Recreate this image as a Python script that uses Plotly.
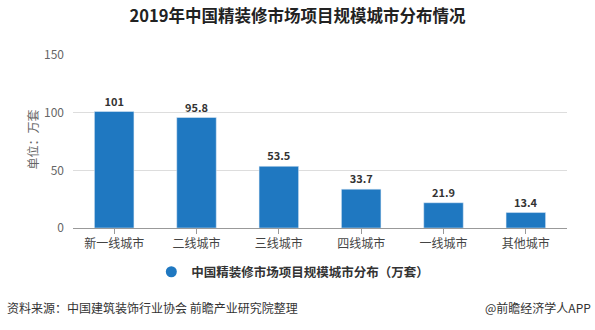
import plotly.graph_objects as go

categories = ["新一线城市", "二线城市", "三线城市", "四线城市", "一线城市", "其他城市"]
values = [101, 95.8, 53.5, 33.7, 21.9, 13.4]
labels = ["101", "95.8", "53.5", "33.7", "21.9", "13.4"]
series_name = "中国精装修市场项目规模城市分布（万套）"
y_ticks = [0, 50, 100, 150]

FONT = "Noto Sans CJK SC, Microsoft YaHei, sans-serif"
BLUE = "#1f78c1"

fig = go.Figure()
fig.add_trace(go.Bar(
    x=categories, y=values, text=labels, textposition="outside",
    textfont=dict(size=11, color="#333333", family=FONT, weight="bold"),
    marker=dict(color=BLUE), width=0.48, showlegend=False, cliponaxis=False,
))
fig.add_trace(go.Scatter(
    x=[None], y=[None], mode="markers", name=series_name,
    marker=dict(symbol="circle", size=11, color=BLUE),
))

fig.update_layout(
    width=595, height=330,
    margin=dict(l=73, r=28, t=55, b=102),
    paper_bgcolor="white", plot_bgcolor="white",
    font=dict(family=FONT, color="#555555", size=12),
    title=dict(text="<b>2019年中国精装修市场项目规模城市分布情况</b>",
               x=0.5, xanchor="center", y=0.95, yanchor="middle",
               font=dict(size=16.5, color="#222222", family=FONT)),
    bargap=0.52,
    xaxis=dict(showline=True, linecolor="#999999", ticks="outside", ticklen=5,
               tickcolor="#999999", tickfont=dict(size=12, color="#444444"),
               showgrid=False),
    yaxis=dict(range=[0, 150], tickvals=y_ticks, showgrid=True, gridcolor="#dddddd",
               zeroline=False, tickfont=dict(size=12, color="#666666"),
               ticks="", ticklabelstandoff=8),
    legend=dict(orientation="h", x=0.445, xanchor="center", y=-0.255, yanchor="middle",
                font=dict(size=12.5, color="#333333", family=FONT, weight="bold")),
    annotations=[
        dict(text="单位：万套", textangle=-90, xref="paper", yref="paper",
             x=-0.103, y=0.51, showarrow=False, font=dict(size=12, color="#666666")),
        dict(text="资料来源：中国建筑装饰行业协会 前瞻产业研究院整理", xref="paper", yref="paper",
             x=-0.138, y=-0.462, xanchor="left", yanchor="middle", showarrow=False,
             font=dict(size=12, color="#333333")),
        dict(text="@前瞻经济学人APP", xref="paper", yref="paper",
             x=1.053, y=-0.462, xanchor="right", yanchor="middle", showarrow=False,
             font=dict(size=12, color="#333333")),
    ],
)

fig.write_html("out.html")
